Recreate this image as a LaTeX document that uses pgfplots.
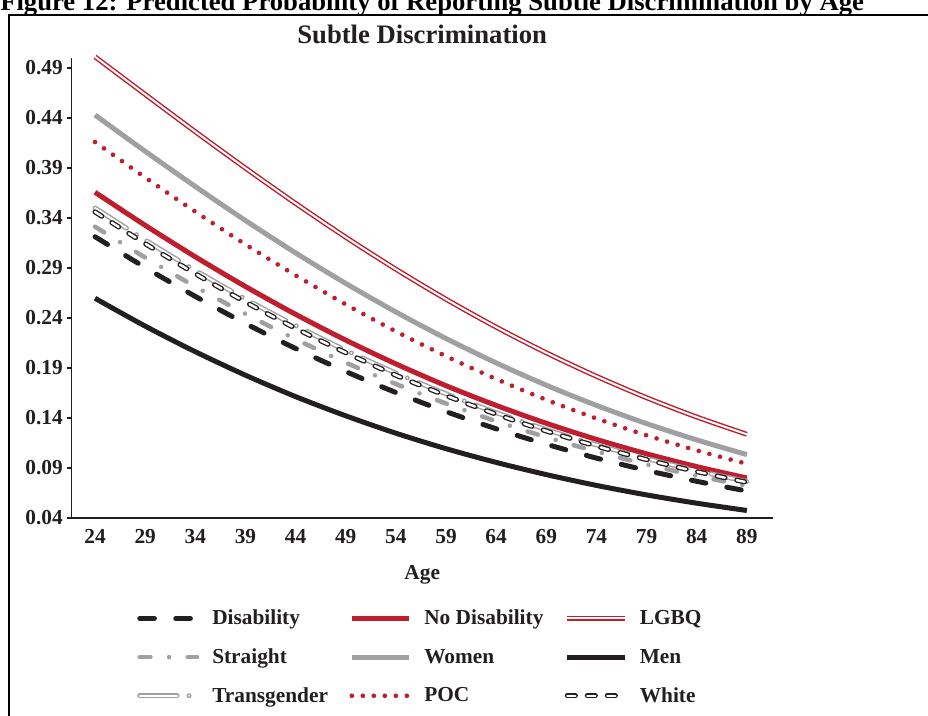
\documentclass[border=0pt]{standalone}
\usepackage{pgfplots}
\usepackage{pgfplotstable}
\pgfplotsset{compat=1.18}
\usepackage{fontspec}
\setmainfont{Liberation Serif}
\definecolor{myred}{RGB}{190,30,45}
\definecolor{mygray}{RGB}{160,160,163}
\definecolor{myblack}{RGB}{35,31,32}

\pgfplotstableread{
age dis nodis lgbq str women men trans poc white
24 0.3213 0.3657 0.5012 0.3313 0.4430 0.2597 0.3500 0.4160 0.3461
29 0.2905 0.3327 0.4636 0.3005 0.4067 0.2319 0.3180 0.3805 0.3144
34 0.2616 0.3012 0.4263 0.2714 0.3715 0.2063 0.2876 0.3463 0.2843
39 0.2345 0.2715 0.3899 0.2442 0.3375 0.1828 0.2590 0.3136 0.2560
44 0.2095 0.2437 0.3546 0.2188 0.3051 0.1614 0.2324 0.2827 0.2297
49 0.1865 0.2179 0.3208 0.1954 0.2746 0.1422 0.2077 0.2536 0.2053
54 0.1655 0.1941 0.2888 0.1740 0.2460 0.1248 0.1850 0.2266 0.1828
59 0.1464 0.1723 0.2588 0.1545 0.2195 0.1093 0.1642 0.2018 0.1624
64 0.1292 0.1526 0.2309 0.1368 0.1951 0.0956 0.1454 0.1790 0.1438
69 0.1138 0.1347 0.2052 0.1208 0.1728 0.0834 0.1284 0.1582 0.1270
74 0.0999 0.1186 0.1817 0.1065 0.1526 0.0726 0.1131 0.1395 0.1119
79 0.0876 0.1042 0.1603 0.0936 0.1344 0.0631 0.0995 0.1227 0.0984
84 0.0767 0.0914 0.1410 0.0822 0.1181 0.0548 0.0873 0.1076 0.0864
89 0.0670 0.0800 0.1237 0.0721 0.1034 0.0475 0.0765 0.0942 0.0757
}\datatable

\begin{document}
\begin{tikzpicture}
\useasboundingbox (0,0) rectangle (696pt,536.25pt);
\begin{scope}
\clip (0,0) rectangle (696pt,536.25pt);
\node[anchor=base west, inner sep=0pt, font=\fontsize{20}{24}\selectfont\bfseries] at (0pt,528pt)
  {Figure 12: Predicted Probability of Reporting Subtle Discrimination by Age};
\draw[line width=1.5pt, black] (6.75pt,-5pt) -- (6.75pt,525pt) -- (710pt,525pt);
\end{scope}
\begin{axis}[
  at={(53.6pt,147.75pt)}, anchor=south west,
  width=526.1pt, height=345pt, scale only axis,
  xmin=21.65, xmax=91.6, ymin=0.04, ymax=0.50,
  clip=false,
  axis x line*=bottom, axis y line*=left,
  axis line style={-, line width=0.9pt, myblack},
  xtick={24,29,...,89},
  ytick={0.04,0.09,0.14,0.19,0.24,0.29,0.34,0.39,0.44,0.49},
  yticklabels={0.04,0.09,0.14,0.19,0.24,0.29,0.34,0.39,0.44,0.49},
  xtick style={draw=none},
  ytick style={line width=0.9pt, myblack},
  tick align=outside, major tick length=3pt,
  /pgf/number format/assume math mode=true,
  ticklabel style={font=\fontsize{16}{19}\selectfont\bfseries, text=myblack},
  xticklabel style={yshift=-2pt},
  xlabel={Age},
  xlabel style={at={(axis description cs:0.5,-0.124)}, anchor=center, font=\fontsize{16}{19}\selectfont\bfseries, text=myblack},
  title={Subtle Discrimination},
  title style={at={(axis description cs:0.5,1)}, anchor=base, yshift=5pt, inner sep=0pt, font=\fontsize{20}{24}\selectfont\bfseries, text=myblack},
  legend columns=3,
  legend style={at={(axis description cs:0.0934,-0.1937)}, anchor=north west, draw=none, fill=none,
    inner sep=0pt, row sep=12.4pt,
    font=\fontsize{16}{19}\selectfont\bfseries, text=myblack,
    /tikz/every odd column/.append style={column sep=7.5pt},
    /tikz/every even column/.append style={column sep=14pt},
    cells={anchor=west}},
  legend image code/.code={\draw[#1] (0pt,0pt) -- (43pt,0pt);},
]
\addplot[myblack, line width=3.75pt, line cap=round, dash pattern=on 11pt off 16pt, smooth] table[x=age,y=dis] {\datatable};
\addlegendentry{Disability}
\addplot[myred, line width=3.75pt, smooth] table[x=age,y=nodis] {\datatable};
\addlegendentry{No Disability}
\addplot[myred, line width=1.1pt, double=white, double distance=1.5pt, smooth] table[x=age,y=lgbq] {\datatable};
\addlegendentry{LGBQ}
\addplot[mygray, line width=3.4pt, line cap=round, dash pattern=on 8pt off 14pt on 0pt off 14pt, smooth] table[x=age,y=str] {\datatable};
\addlegendentry{Straight}
\addplot[mygray, line width=3.75pt, smooth] table[x=age,y=women] {\datatable};
\addlegendentry{Women}
\addplot[myblack, line width=3.75pt, smooth] table[x=age,y=men] {\datatable};
\addlegendentry{Men}
\addplot[mygray, line width=1.1pt, double=white, double distance=1.5pt, line cap=round, dash pattern=on 28pt off 9pt on 0pt off 9pt, smooth] table[x=age,y=trans] {\datatable};
\addlegendentry{Transgender}
\addplot[myred, line width=3.5pt, line cap=round, dash pattern=on 0pt off 8.25pt, smooth] table[x=age,y=poc] {\datatable};
\addlegendentry{POC}
\addplot[myblack, line width=1pt, double=white, double distance=1.8pt, line cap=round, dash pattern=on 6pt off 9pt, smooth] table[x=age,y=white] {\datatable};
\addlegendentry{White}
\end{axis}
\end{tikzpicture}
\end{document}
